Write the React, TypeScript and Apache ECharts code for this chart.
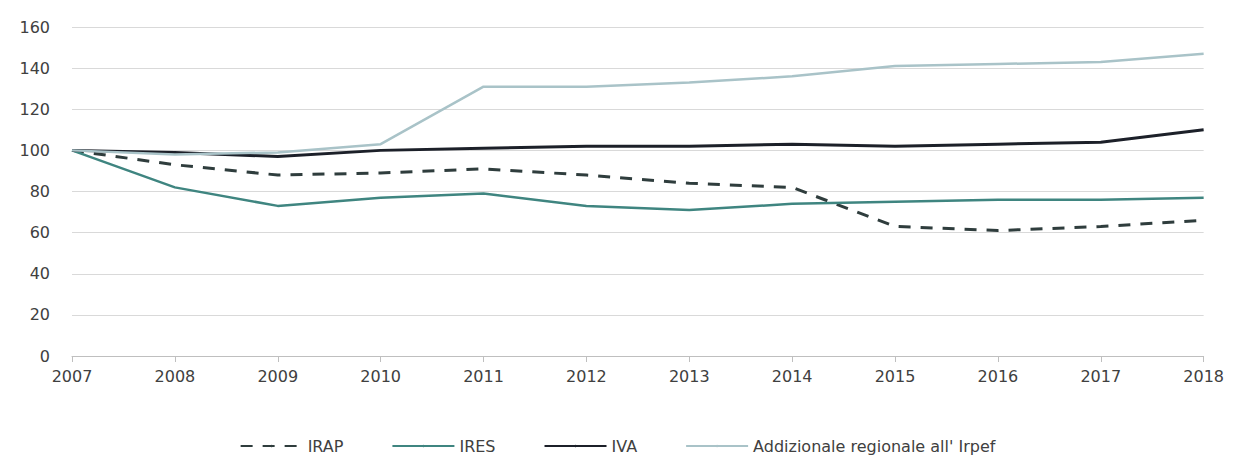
import React, { useEffect, useRef } from "react";
import * as echarts from "echarts";

const years = ["2007","2008","2009","2010","2011","2012","2013","2014","2015","2016","2017","2018"];
const irap = [100, 93, 88, 89, 91, 88, 84, 82, 63, 61, 63, 66];
const ires = [100, 82, 73, 77, 79, 73, 71, 74, 75, 76, 76, 77];
const iva = [100, 99, 97, 100, 101, 102, 102, 103, 102, 103, 104, 110];
const addizionale = [100, 98, 99, 103, 131, 131, 133, 136, 141, 142, 143, 147];

export default function App() {
  const ref = useRef<HTMLDivElement>(null);
  useEffect(() => {
    const chart = echarts.init(ref.current!, null, { renderer: "svg" });
    const font = "'DejaVu Sans', 'Liberation Sans', sans-serif";
    chart.setOption({
      animation: false,
      textStyle: { fontFamily: font },
      grid: { left: 64, right: 21, top: 19, bottom: 105, containLabel: false },
      legend: {
        top: 425,
        left: "center",
        itemWidth: 62,
        itemHeight: 3,
        itemGap: 48,
        textStyle: { fontSize: 16, color: "#404040", fontFamily: font },
        data: ["IRAP", "IRES", "IVA", "Addizionale regionale all' Irpef"],
      },
      xAxis: {
        type: "category",
        data: years,
        boundaryGap: false,
        axisLine: { lineStyle: { color: "#bfbfbf", width: 1 } },
        axisTick: { show: true, alignWithLabel: true, length: 6, lineStyle: { color: "#bfbfbf" } },
        axisLabel: { fontSize: 16, color: "#404040", margin: 12, fontFamily: font },
      },
      yAxis: {
        type: "value",
        min: 0,
        max: 160,
        interval: 20,
        axisLine: { show: false },
        axisTick: { show: false },
        axisLabel: { fontSize: 16, color: "#404040", margin: 22, fontFamily: font },
        splitLine: { lineStyle: { color: "#d9d9d9", width: 1 } },
      },
      series: [
        {
          name: "IRAP", type: "line", data: irap, symbol: "none",
          lineStyle: { color: "#2f3d3d", width: 3, type: [12, 10] },
          itemStyle: { color: "#2f3d3d" },
        },
        {
          name: "IRES", type: "line", data: ires, symbol: "none",
          lineStyle: { color: "#3f8580", width: 2.5 },
          itemStyle: { color: "#3f8580" },
        },
        {
          name: "IVA", type: "line", data: iva, symbol: "none",
          lineStyle: { color: "#1c2029", width: 3 },
          itemStyle: { color: "#1c2029" },
        },
        {
          name: "Addizionale regionale all' Irpef", type: "line", data: addizionale, symbol: "none",
          lineStyle: { color: "#a9c3c8", width: 2.5 },
          itemStyle: { color: "#a9c3c8" },
        },
      ],
    });
    return () => chart.dispose();
  }, []);
  return <div ref={ref} style={{ width: 1219, height: 453 }} />;
}
